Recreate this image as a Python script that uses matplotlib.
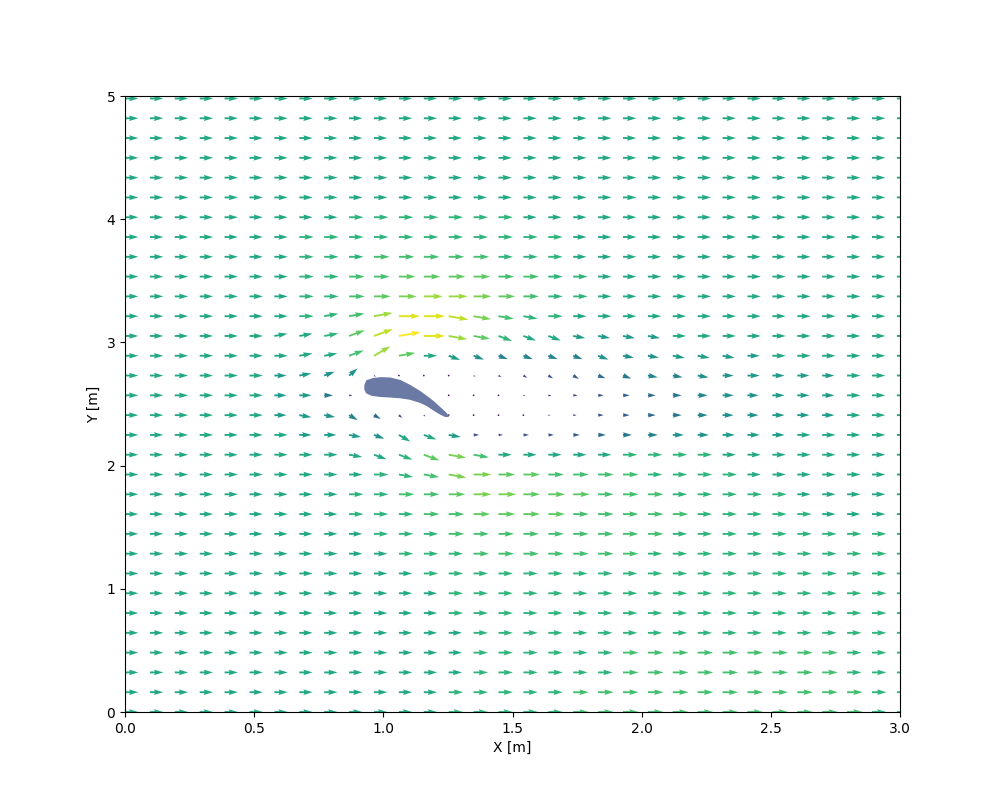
import numpy as np
import matplotlib
matplotlib.use("Agg")
import matplotlib.pyplot as plt

# sample grid (every 8th node of a 250 x 250 mesh)
x_nodes = np.linspace(0, 3, 250)[::8]
y_nodes = np.linspace(0, 5, 250)[::8]

# speed level per node, rows from top (y=5) to bottom (y=0), columns in groups of 8
# a=0.00, b=0.05 ... m=0.60 ... u=1.00 ; '.' = inside the airfoil
speed_rows = [
    "mmmmmmmm mmmmmmmm mmmmmmmm mmmmmmmm",
    "mmmmmmmm mmmmmmmm mmmmmmmm mmmmmmmm",
    "mmmmmmmm mmmmmmmm mmmmmmmm mmmmmmmm",
    "mmmmmmmm mmmmmmmm mmmmmmmm mmmmmmmm",
    "mmmmmmmm mmmmmmmm mmmmmmmm mmmmmmmm",
    "mmmmmmmm mmmmmmmm mmmmmmmm mmmmmmmm",
    "mmmmmmmm mnnnnnnn mmmmmmmm mmmmmmmm",
    "mmmmmmmn nnnnnnnn nnmmmmmm mmmmmmmm",
    "mmmmmmmn nnooooon nnmmmmmm mmmmmmmm",
    "mmmmmmmn nooppppo onnmmmmm mmmmmmmm",
    "mmmmmmmn nopqrrqp onnmmmmm mmmmmmmm",
    "mmmmmmmn norttsqo nnmmmmmm mmmmmmmm",
    "mmmmmmmm npsutrpn mmllllmm mmmmmmmm",
    "mmmmmmmm morpmlkj jjjkkkll llmmmmmm",
    "mmmmmmll kkcbbbcd efghijjk kllllmmm",
    "mmmmmmll id...abb cdefghij kklllmmm",
    "mmmmmmll kjhecaab bcdfghij kklllmmm",
    "mmmmmmml llkmmlfe ffghijkk lllmmmmm",
    "mmmmmmmm mmmnpqom mmmmnnnn mmmmmmmm",
    "mmmmmmmm mmnnoqqp poooonnn nmmmmmmm",
    "mmmmmmmm mnnoopqq pppooonn nnnmmmmm",
    "mmmmmmmm mnnnoopp ppooooon nnnnmmmm",
    "mmmmmmmm mmnnnooo oooooonn nnnnnnnn",
    "mmmmmmmm mmmnnnoo ooooonnn nnnnnnnn",
    "mmmmmmmm mmmmnnnn nnnnnnnn nnnnnnnn",
    "mmmmmmmm mmmmmnnn nnnnnnnn nnnnnnnn",
    "mmmmmmmm mmmmmnnn nnnnnnnn nnnnnnnn",
    "mmmmmmmm mmmmmmnn nnnnnnnn nnnnnnnn",
    "mmmmmmmm mmmmmmnn nnnnoooo ooooonnn",
    "mmmmmmmm mmmmmmnn nnnnoooo ooooonnn",
    "mmmmmmmm mmmmmnnn nnoooooo oooooonn",
    "mmmmmmmm mmmmmnnn nnoooooo oooooonn",
]

# flow angle per node: digits = +10 deg steps, letters a-e = -10..-50 deg
angle_rows = [
    "00000000 00000000 00000000 00000000",
    "00000000 00000000 00000000 00000000",
    "00000000 00000000 00000000 00000000",
    "00000000 00000000 00000000 00000000",
    "00000000 00000000 00000000 00000000",
    "00000000 00000000 00000000 00000000",
    "00000000 00000000 00000000 00000000",
    "00000000 00000000 00000000 00000000",
    "00000000 00000000 00000000 00000000",
    "00000000 00000000 00000000 00000000",
    "00000000 00000000 00000000 00000000",
    "00000000 11100aaa a0000000 00000000",
    "00000011 12210aab bbaaaa00 00000000",
    "00000001 12310bbb bbbbaaaa a0000000",
    "00000001 24cccccc cccbbaaa 00000000",
    "00000000 00000aaa aa000000 00000000",
    "0000000a accddcba 00000000 00000000",
    "00000000 0abcba00 00000000 00000000",
    "00000000 0abbbaa0 00000000 00000000",
    "00000000 000aaa00 00000000 00000000",
    "00000000 00000000 00000000 00000000",
    "00000000 00000000 00000000 00000000",
    "00000000 00000000 00000000 00000000",
    "00000000 00000000 00000000 00000000",
    "00000000 00000000 00000000 00000000",
    "00000000 00000000 00000000 00000000",
    "00000000 00000000 00000000 00000000",
    "00000000 00000000 00000000 00000000",
    "00000000 00000000 00000000 00000000",
    "00000000 00000000 00000000 00000000",
    "00000000 00000000 00000000 00000000",
    "00000000 00000000 00000000 00000000",
]

# airfoil outline (m)
foil_x = [0.929, 0.936, 0.960, 0.987, 1.026, 1.065, 1.103, 1.142, 1.168, 1.193,
          1.219, 1.240, 1.252, 1.240, 1.220, 1.193, 1.168, 1.142, 1.103, 1.065,
          1.026, 0.987, 0.955, 0.935, 0.929]
foil_y = [2.650, 2.688, 2.705, 2.712, 2.710, 2.690, 2.650, 2.600, 2.560, 2.520,
          2.470, 2.430, 2.400, 2.400, 2.420, 2.455, 2.490, 2.515, 2.540, 2.552,
          2.558, 2.563, 2.572, 2.592, 2.620]

levels = "abcdefghijklmnopqrstu"
angle_map = {str(d): 10 * d for d in range(10)}
angle_map.update({"a": -10, "b": -20, "c": -30, "d": -40, "e": -50})

ny, nx = len(y_nodes), len(x_nodes)
speed = np.ma.masked_all((ny, nx))
ang = np.zeros((ny, nx))
for r, (srow, arow) in enumerate(zip(speed_rows, angle_rows)):
    srow = srow.replace(" ", "")
    arow = arow.replace(" ", "")
    assert len(srow) == nx and len(arow) == nx, r
    i = ny - 1 - r
    for j in range(nx):
        if srow[j] != ".":
            speed[i, j] = levels.index(srow[j]) * 0.05
        ang[i, j] = angle_map[arow[j]]

X, Y = np.meshgrid(x_nodes, y_nodes)
U = speed * np.cos(np.radians(ang))
V = speed * np.sin(np.radians(ang))

fig, ax = plt.subplots(figsize=(10, 8), dpi=100)
ax.quiver(X, Y, U, V, speed, cmap="viridis")
ax.fill(foil_x, foil_y, color="#6b7aa5", zorder=3)
ax.set_xlim(0, 3)
ax.set_ylim(0, 5)
ax.set_xlabel("X [m]")
ax.set_ylabel("Y [m]")
fig.savefig("out.png", dpi=100)
